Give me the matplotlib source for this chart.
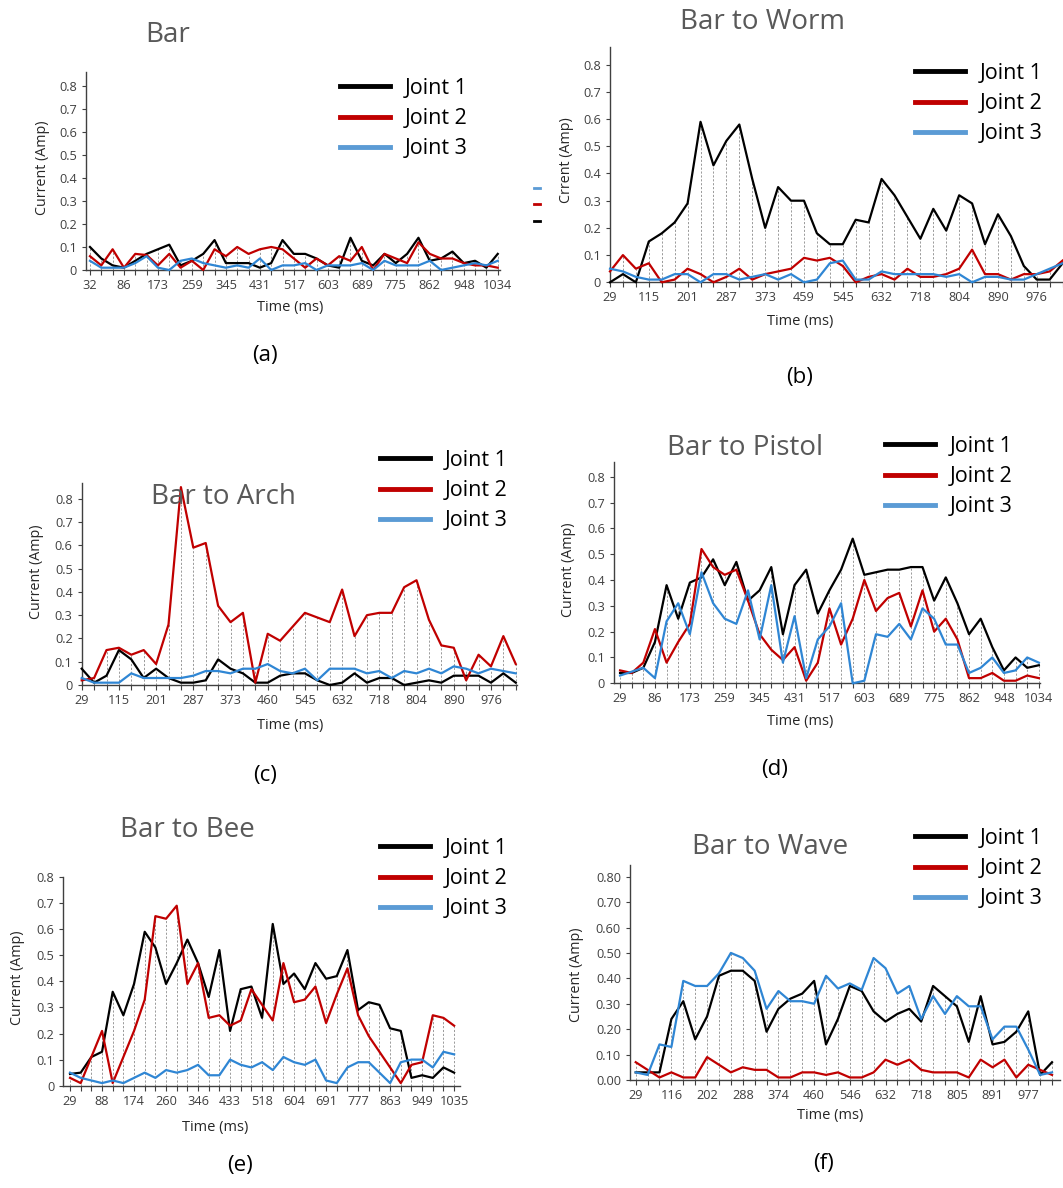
import numpy as np
import matplotlib.pyplot as plt
from matplotlib.lines import Line2D
from matplotlib.ticker import FuncFormatter

plt.rcParams['font.family'] = ['Open Sans', 'DejaVu Sans']

W, H = 1063, 1188

# ---------------- data: current (Amp) per sample, three joints ----------------
bar_ticks = ["32", "86", "173", "259", "345", "431", "517", "603", "689", "775", "862", "948", "1034"]
bar_j1 = [0.10, 0.05, 0.02, 0.01, 0.04, 0.07, 0.09, 0.11, 0.02, 0.04, 0.07, 0.13, 0.03, 0.03, 0.03, 0.01,
          0.03, 0.13, 0.07, 0.07, 0.05, 0.02, 0.01, 0.14, 0.04, 0.02, 0.07, 0.03, 0.07, 0.14, 0.04, 0.05,
          0.08, 0.03, 0.04, 0.01, 0.07]
bar_j2 = [0.06, 0.02, 0.09, 0.01, 0.07, 0.065, 0.02, 0.07, 0.01, 0.04, 0.00, 0.09, 0.06, 0.10, 0.07, 0.09,
          0.10, 0.09, 0.05, 0.01, 0.05, 0.02, 0.06, 0.04, 0.10, 0.00, 0.07, 0.05, 0.03, 0.12, 0.07, 0.05,
          0.05, 0.03, 0.02, 0.02, 0.01]
bar_j3 = [0.04, 0.01, 0.01, 0.01, 0.03, 0.06, 0.01, 0.00, 0.04, 0.05, 0.03, 0.02, 0.01, 0.02, 0.01, 0.05,
          0.00, 0.02, 0.02, 0.03, 0.00, 0.02, 0.02, 0.02, 0.03, 0.00, 0.04, 0.02, 0.02, 0.02, 0.04, 0.00,
          0.01, 0.02, 0.03, 0.02, 0.04]

worm_ticks = ["29", "115", "201", "287", "373", "459", "545", "632", "718", "804", "890", "976"]
worm_j1 = [0.00, 0.03, 0.00, 0.15, 0.18, 0.22, 0.29, 0.59, 0.43, 0.52, 0.58, 0.38, 0.20, 0.35, 0.30, 0.30,
           0.18, 0.14, 0.14, 0.23, 0.22, 0.38, 0.32, 0.24, 0.16, 0.27, 0.19, 0.32, 0.29, 0.14, 0.25, 0.17,
           0.06, 0.01, 0.01, 0.07]
worm_j2 = [0.04, 0.10, 0.05, 0.07, 0.00, 0.01, 0.05, 0.03, 0.00, 0.02, 0.05, 0.01, 0.03, 0.04, 0.05, 0.09,
           0.08, 0.09, 0.06, 0.00, 0.02, 0.03, 0.01, 0.05, 0.02, 0.02, 0.03, 0.05, 0.12, 0.03, 0.03, 0.01,
           0.03, 0.03, 0.04, 0.08]
worm_j3 = [0.05, 0.04, 0.02, 0.01, 0.01, 0.03, 0.03, 0.00, 0.03, 0.03, 0.01, 0.02, 0.03, 0.01, 0.03, 0.00,
           0.01, 0.07, 0.08, 0.01, 0.01, 0.04, 0.03, 0.03, 0.03, 0.03, 0.02, 0.03, 0.00, 0.02, 0.02, 0.01,
           0.01, 0.03, 0.05, 0.07]

arch_ticks = ["29", "115", "201", "287", "373", "460", "545", "632", "718", "804", "890", "976"]
arch_j1 = [0.07, 0.01, 0.04, 0.15, 0.11, 0.03, 0.07, 0.03, 0.01, 0.01, 0.02, 0.11, 0.07, 0.05, 0.01, 0.01,
           0.04, 0.05, 0.05, 0.02, 0.00, 0.01, 0.05, 0.01, 0.03, 0.03, 0.00, 0.01, 0.02, 0.01, 0.04, 0.04,
           0.04, 0.01, 0.05, 0.01]
arch_j2 = [0.02, 0.03, 0.15, 0.16, 0.13, 0.15, 0.09, 0.26, 0.85, 0.59, 0.61, 0.34, 0.27, 0.31, 0.01, 0.22,
           0.19, 0.25, 0.31, 0.29, 0.27, 0.41, 0.21, 0.30, 0.31, 0.31, 0.42, 0.45, 0.28, 0.17, 0.16, 0.02,
           0.13, 0.08, 0.21, 0.09]
arch_j3 = [0.03, 0.01, 0.01, 0.01, 0.05, 0.03, 0.03, 0.03, 0.03, 0.04, 0.06, 0.06, 0.05, 0.07, 0.07, 0.09,
           0.06, 0.05, 0.07, 0.02, 0.07, 0.07, 0.07, 0.05, 0.06, 0.03, 0.06, 0.05, 0.07, 0.05, 0.08, 0.07,
           0.05, 0.07, 0.06, 0.05]

pistol_ticks = ["29", "86", "173", "259", "345", "431", "517", "603", "689", "775", "862", "948", "1034"]
pistol_j1 = [0.04, 0.04, 0.06, 0.16, 0.38, 0.25, 0.39, 0.41, 0.48, 0.38, 0.47, 0.32, 0.36, 0.45, 0.19, 0.38,
             0.44, 0.27, 0.36, 0.44, 0.56, 0.42, 0.43, 0.44, 0.44, 0.45, 0.45, 0.32, 0.41, 0.31, 0.19, 0.25,
             0.14, 0.05, 0.10, 0.06, 0.07]
pistol_j2 = [0.05, 0.04, 0.08, 0.21, 0.08, 0.16, 0.23, 0.52, 0.45, 0.42, 0.44, 0.32, 0.19, 0.13, 0.09, 0.14,
             0.01, 0.08, 0.29, 0.15, 0.25, 0.40, 0.28, 0.33, 0.35, 0.22, 0.36, 0.20, 0.25, 0.17, 0.02, 0.02,
             0.04, 0.01, 0.01, 0.03, 0.02]
pistol_j3 = [0.03, 0.045, 0.06, 0.02, 0.24, 0.31, 0.19, 0.43, 0.31, 0.25, 0.23, 0.36, 0.17, 0.38, 0.08, 0.26,
             0.02, 0.17, 0.22, 0.31, 0.00, 0.01, 0.19, 0.18, 0.23, 0.17, 0.29, 0.25, 0.15, 0.15, 0.04, 0.06,
             0.10, 0.04, 0.05, 0.10, 0.08]

bee_ticks = ["29", "88", "174", "260", "346", "433", "518", "604", "691", "777", "863", "949", "1035"]
bee_j1 = [0.045, 0.05, 0.11, 0.13, 0.36, 0.27, 0.39, 0.59, 0.53, 0.39, 0.47, 0.56, 0.47, 0.34, 0.52, 0.21,
          0.37, 0.38, 0.26, 0.62, 0.39, 0.43, 0.37, 0.47, 0.41, 0.42, 0.52, 0.29, 0.32, 0.31, 0.22, 0.21,
          0.03, 0.04, 0.03, 0.07, 0.05]
bee_j2 = [0.03, 0.01, 0.11, 0.21, 0.01, 0.11, 0.21, 0.33, 0.65, 0.64, 0.69, 0.39, 0.47, 0.26, 0.27, 0.23,
          0.25, 0.37, 0.31, 0.25, 0.47, 0.32, 0.33, 0.38, 0.24, 0.35, 0.45, 0.27, 0.19, 0.13, 0.07, 0.01,
          0.08, 0.09, 0.27, 0.26, 0.23]
bee_j3 = [0.05, 0.03, 0.02, 0.01, 0.02, 0.01, 0.03, 0.05, 0.03, 0.06, 0.05, 0.06, 0.08, 0.04, 0.04, 0.10,
          0.08, 0.07, 0.09, 0.06, 0.11, 0.09, 0.08, 0.10, 0.02, 0.01, 0.07, 0.09, 0.09, 0.05, 0.01, 0.09,
          0.10, 0.10, 0.07, 0.13, 0.12]

wave_ticks = ["29", "116", "202", "288", "374", "460", "546", "632", "718", "805", "891", "977"]
wave_j1 = [0.03, 0.03, 0.03, 0.24, 0.31, 0.16, 0.25, 0.41, 0.43, 0.43, 0.39, 0.19, 0.28, 0.32, 0.34, 0.39,
           0.14, 0.24, 0.37, 0.35, 0.27, 0.23, 0.26, 0.28, 0.23, 0.37, 0.33, 0.29, 0.15, 0.33, 0.14, 0.15,
           0.19, 0.27, 0.02, 0.07]
wave_j2 = [0.07, 0.04, 0.01, 0.03, 0.01, 0.01, 0.09, 0.06, 0.03, 0.05, 0.04, 0.04, 0.01, 0.01, 0.03, 0.03,
           0.02, 0.03, 0.01, 0.01, 0.03, 0.08, 0.06, 0.08, 0.04, 0.03, 0.03, 0.03, 0.01, 0.08, 0.05, 0.08,
           0.01, 0.06, 0.04, 0.02]
wave_j3 = [0.03, 0.02, 0.14, 0.13, 0.39, 0.37, 0.37, 0.42, 0.50, 0.48, 0.43, 0.28, 0.35, 0.31, 0.31, 0.30,
           0.41, 0.36, 0.38, 0.355, 0.48, 0.44, 0.34, 0.37, 0.24, 0.33, 0.26, 0.33, 0.29, 0.29, 0.16, 0.21,
           0.21, 0.12, 0.02, 0.03]

joint_labels = ["Joint 1", "Joint 2", "Joint 3"]
line_colors = ["#000000", "#C00000", "#2F86D4"]
legend_colors = ["#000000", "#C00000", "#5B9BD5"]

fig = plt.figure(figsize=(W / 100, H / 100), dpi=100)


def fx(x):
    return x / W


def fy(y):
    return 1 - y / H


def panel(box, xlim, ymax, series, ticks, title, title_xy, ylabel, ylabel_xy,
          xlabel_xy, tag, tag_xy, leg_xy, yfmt="{:.1f}"):
    left, right, top, bottom = box
    ax = fig.add_axes([fx(left), fy(bottom), (right - left) / W, (bottom - top) / H])
    n = len(series[0])
    x = np.arange(n)
    # drop lines (grey dashed, up to the highest series)
    ax.vlines(x, 0, np.max(np.array(series), axis=0), colors="#9a9a9a",
              linestyles=(0, (2.2, 1.8)), lw=0.7, zorder=1)
    for vals, c in zip(series, line_colors):
        ax.plot(x, vals, color=c, lw=1.6, zorder=3, clip_on=False)
    ax.set_xlim(*xlim)
    ax.set_ylim(0, ymax)
    labels = [""] * n
    labels[::3] = ticks
    ax.set_xticks(x)
    ax.set_xticklabels(labels, fontsize=9.2, color="#404040")
    ax.set_yticks(np.arange(0, 0.81, 0.1))
    ax.yaxis.set_major_formatter(FuncFormatter(
        lambda v, p: "0" if (abs(v) < 1e-9 and yfmt == "{:.1f}") else yfmt.format(v)))
    ax.tick_params(axis="y", labelsize=9.2, labelcolor="#404040", length=3, color="#404040")
    ax.tick_params(axis="x", length=3.5, color="#404040", pad=3)
    for s in ["top", "right"]:
        ax.spines[s].set_visible(False)
    for s in ["left", "bottom"]:
        ax.spines[s].set_color("#404040")
        ax.spines[s].set_linewidth(1.0)

    fig.text(fx(title_xy[0]), fy(title_xy[1]), title, fontsize=20, color="#595959",
             ha="center", va="center")
    fig.text(fx(ylabel_xy[0]), fy(ylabel_xy[1]), ylabel, fontsize=10.3, color="#262626",
             rotation=90, ha="center", va="center")
    fig.text(fx(xlabel_xy[0]), fy(xlabel_xy[1]), "Time (ms)", fontsize=10.5, color="#262626",
             ha="center", va="center")
    fig.text(fx(tag_xy[0]), fy(tag_xy[1]), tag, fontsize=16, color="#000000",
             ha="center", va="center")
    handles = [Line2D([], [], color=c, lw=3.5) for c in legend_colors]
    fig.legend(handles, joint_labels, loc="upper left",
               bbox_to_anchor=(fx(leg_xy[0]), fy(leg_xy[1])), frameon=False,
               fontsize=15.5, handlelength=2.3, handletextpad=0.7, labelspacing=0.42,
               borderpad=0, borderaxespad=0)
    return ax


ax_a = panel((86, 500, 72, 270), (-0.35, 36.2), 0.86, [bar_j1, bar_j2, bar_j3], bar_ticks,
             "Bar", (168, 35), "Current (Amp)", (43, 168), (290, 308), "(a)", (265, 355), (340, 78))
# small leftover legend keys at the right of panel (a)
mini = [Line2D([], [], color=c, lw=2) for c in legend_colors[::-1]]
fig.legend(mini, ["", "", ""], loc="upper left", bbox_to_anchor=(fx(534), fy(184)), frameon=False,
           fontsize=8, handlelength=0.5, handletextpad=0, labelspacing=0.48, borderpad=0, borderaxespad=0)

panel((610, 1063, 47, 282.3), (0, 35.03), 0.865, [worm_j1, worm_j2, worm_j3], worm_ticks,
      "Bar to Worm", (762, 22), "Crrent (Amp)", (566, 160), (800, 322), "(b)", (800, 377), (915, 63))

panel((81.7, 517, 482.7, 685), (0, 35.1), 0.869, [arch_j1, arch_j2, arch_j3], arch_ticks,
      "Bar to Arch", (223, 497), "Current (Amp)", (37, 572), (290, 725), "(c)", (265, 775), (380, 450))

panel((614, 1040, 461.7, 683.3), (-0.52, 36.1), 0.858, [pistol_j1, pistol_j2, pistol_j3], pistol_ticks,
      "Bar to Pistol", (745, 448), "Current (Amp)", (569, 570), (800, 722), "(d)", (775, 770), (885, 436))

panel((63.3, 460, 877, 1085.7), (-0.63, 36.55), 0.80, [bee_j1, bee_j2, bee_j3], bee_ticks,
      "Bar to Bee", (187, 830), "Current (Amp)", (18, 978), (215, 1128), "(e)", (240, 1165), (380, 838))

panel((630, 1060, 865, 1080), (-0.48, 35.67), 0.846, [wave_j1, wave_j2, wave_j3], wave_ticks,
      "Bar to Wave", (770, 847), "Current (Amp)", (577, 975), (830, 1116), "(f)", (823, 1163), (915, 828),
      yfmt="{:.2f}")

fig.savefig("out.png", dpi=100)
